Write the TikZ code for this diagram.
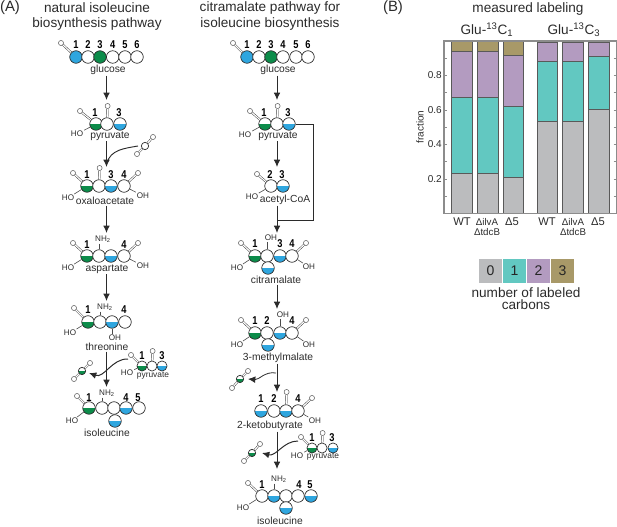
\documentclass[tikz,border=0pt]{standalone}
\usepackage{fontspec}
\setmainfont{Liberation Sans}
\newfontfamily\numfont[FakeStretch=0.82]{Liberation Sans}
\usetikzlibrary{arrows.meta, positioning}
\usepackage{xcolor}
\definecolor{ink}{HTML}{2B2B2B}
\definecolor{cblue}{HTML}{2FA6DF}
\definecolor{cgreen}{HTML}{0C8C4A}
\definecolor{barzero}{HTML}{BBBCBE}
\definecolor{barone}{HTML}{62C8C1}
\definecolor{bartwo}{HTML}{B39BC0}
\definecolor{barthree}{HTML}{A89968}

\begin{document}
\begin{tikzpicture}[
    x=0.75pt, y=-0.75pt,
    atom/.style={draw=ink, circle, fill=white, line width=0.5pt, inner sep=0pt, minimum size=9.4pt},
    atomblue/.style={atom, fill=cblue},
    atomgreen/.style={atom, fill=cgreen},
    halfblue/.style={atom, path picture={\fill[cblue] (path picture bounding box.west) rectangle (path picture bounding box.south east);}},
    halfgreen/.style={atom, path picture={\fill[cgreen] (path picture bounding box.west) rectangle (path picture bounding box.south east);}},
    oxy/.style={draw=ink!85, circle, fill=white, line width=0.35pt, inner sep=0pt, minimum size=3.8pt},
    dbond/.style={draw=ink, double, double distance=0.85pt, line width=0.32pt},
    bond/.style={draw=ink!85, line width=0.45pt},
    num/.style={font=\numfont\bfseries\fontsize{8.5}{9}\selectfont, text=black, inner sep=0pt},
    chemgroup/.style={font=\fontsize{6.1}{7}\selectfont, text=ink, inner sep=0.6pt},
    chemname/.style={font=\fontsize{7.7}{9}\selectfont, text=ink, inner sep=0.5pt},
    smallname/.style={font=\fontsize{6.3}{7}\selectfont, text=ink, inner sep=0.5pt},
    arrow/.style={-{Latex[length=5.5pt,width=5pt]}, draw=ink, line width=0.75pt},
    feed/.style={draw=ink, line width=0.7pt},
    heading/.style={font=\fontsize{10.2}{12}\selectfont, text=ink, inner sep=0pt},
    ticklab/.style={font=\fontsize{7.5}{9}\selectfont, text=ink, inner sep=0pt},
    strain/.style={font=\fontsize{7.3}{8}\selectfont, text=ink, inner sep=0pt},
    keybox/.style={minimum width=17pt, minimum height=18pt, inner sep=0pt, font=\fontsize{10.5}{12}\selectfont, text=black!85}
]
\useasboundingbox (0,0) rectangle (617,527);

% titles
\node[font=\fontsize{11.2}{12}\selectfont, text=ink, inner sep=0pt] (panelA) at (10,8) {(A)};
\node[font=\fontsize{11.2}{12}\selectfont, text=ink, inner sep=0pt] (panelB) at (393,8) {(B)};
\node[heading] (titleA1) at (97,8) {natural isoleucine};
\node[heading] (titleA2) at (97,24) {biosynthesis pathway};
\node[heading] (titleB1) at (270,8) {citramalate pathway for};
\node[heading] (titleB2) at (270,24) {isoleucine biosynthesis};

% natural pathway: glucose
\foreach \n/\x/\st in {1/76/atomblue,2/88/atom,3/100/atomgreen,4/112.7/atom,5/125/atom,6/137/atom} {
    \node[\st] (gluA\n) at (\x,57) {};
    \node[num] (gluAn\n) at (\x,45) {\n};
}
\node[oxy] (gluAo) at (61,43) {};
\draw[dbond] (gluAo) -- (gluA1);
\node[chemname] (gluAname) at (108,70) {glucose};

% natural pathway: pyruvate
\foreach \n/\x/\st in {1/96/halfgreen,2/107/atom,3/120/halfblue} \node[\st] (pyrA\n) at (\x,124) {};
\node[num] (pyrAn1) at (95,113) {1};
\node[num] (pyrAn3) at (119,113) {3};
\node[oxy] (pyrAo) at (80,111) {};
\node[oxy] (pyrAt) at (107.6,106) {};
\node[chemgroup] (pyrAho) at (77,134) {HO};
\draw[dbond] (pyrAo) -- (pyrA1);
\draw[dbond] (pyrAt) -- (pyrA2);
\draw[bond] (pyrAho) -- (pyrA1);
\node[chemname] (pyrAname) at (110,136) {pyruvate};

% natural pathway: carbon dioxide joining
\node[atom, minimum size=5.5pt] (coA) at (145,146) {};
\node[oxy] (coAu) at (153,137) {};
\node[oxy] (coAd) at (137,154) {};
\draw[dbond] (coAu) -- (coA);
\draw[dbond] (coAd) -- (coA);

% natural pathway: oxaloacetate
\foreach \n/\x/\st in {1/87/halfgreen,2/99/atom,3/111/halfblue,4/124/atom} \node[\st] (oxaA\n) at (\x,186) {};
\foreach \n/\x in {1/87,3/111,4/124} \node[num] (oxaAn\n) at (\x,175) {\n};
\node[oxy] (oxaAo) at (73,173) {};
\node[oxy] (oxaAp) at (138,173) {};
\node[oxy] (oxaAt) at (99.6,168) {};
\node[chemgroup] (oxaAho) at (68,198) {HO};
\node[chemgroup] (oxaAoh) at (143,196) {OH};
\draw[dbond] (oxaAo) -- (oxaA1);
\draw[dbond] (oxaAp) -- (oxaA4);
\draw[dbond] (oxaAt) -- (oxaA2);
\draw[bond] (oxaAho) -- (oxaA1);
\draw[bond] (oxaAoh) -- (oxaA4);
\node[chemname] (oxaAname) at (105,201) {oxaloacetate};

% natural pathway: aspartate
\foreach \n/\x/\st in {1/87/halfgreen,2/99/atom,3/111/halfblue,4/124/atom} \node[\st] (aspA\n) at (\x,256) {};
\foreach \n/\x in {1/87,4/124} \node[num] (aspAn\n) at (\x,245) {\n};
\node[oxy] (aspAo) at (73,243) {};
\node[oxy] (aspAp) at (138,243) {};
\node[chemgroup] (aspAnh) at (103,239) {NH\textsubscript{2}};
\node[chemgroup] (aspAho) at (68,268) {HO};
\node[chemgroup] (aspAoh) at (143,266) {OH};
\draw[dbond] (aspAo) -- (aspA1);
\draw[dbond] (aspAp) -- (aspA4);
\draw[bond] (aspAnh.south -| aspA2) -- (aspA2);
\draw[bond] (aspAho) -- (aspA1);
\draw[bond] (aspAoh) -- (aspA4);
\node[chemname] (aspAname) at (107,269) {aspartate};

% natural pathway: threonine
\foreach \n/\x/\st in {1/88/halfgreen,2/100/atom,3/112/halfblue,4/125/atom} \node[\st] (thrA\n) at (\x,322) {};
\foreach \n/\x in {1/88,4/124} \node[num] (thrAn\n) at (\x,310) {\n};
\node[oxy] (thrAo) at (74,308) {};
\node[chemgroup] (thrAnh) at (105,307) {NH\textsubscript{2}};
\node[chemgroup] (thrAho) at (70,333) {HO};
\node[chemgroup] (thrAoh) at (115,338) {OH};
\draw[dbond] (thrAo) -- (thrA1);
\draw[bond] (thrAnh.south -| thrA2) -- (thrA2);
\draw[bond] (thrAho) -- (thrA1);
\draw[bond] (thrAoh.north -| thrA3) -- (thrA3);
\node[chemname] (thrAname) at (107,347) {threonine};

% natural pathway: small pyruvate and carbon dioxide
\foreach \n/\x/\st in {1/142/halfgreen,2/152/atom,3/162/halfblue} \node[\st, minimum size=7.6pt] (spyA\n) at (\x,366) {};
\node[num] (spyAn1) at (142,356) {1};
\node[num] (spyAn3) at (162,356) {3};
\node[oxy] (spyAo) at (131,355) {};
\node[oxy] (spyAt) at (152.6,351) {};
\node[chemgroup] (spyAho) at (127,373) {HO};
\draw[dbond] (spyAo) -- (spyA1);
\draw[dbond] (spyAt) -- (spyA2);
\draw[bond] (spyAho) -- (spyA1);
\node[smallname] (spyAname) at (153,376) {pyruvate};
\node[halfgreen, minimum size=5.5pt] (lossA) at (82,371) {};
\node[oxy] (lossAu) at (90,363) {};
\node[oxy] (lossAd) at (74,379) {};
\draw[dbond] (lossAu) -- (lossA);
\draw[dbond] (lossAd) -- (lossA);

% natural pathway: isoleucine
\foreach \n/\x/\st in {1/89/halfgreen,2/102/atom,3/114/atom,4/126/halfblue,5/139/atom} \node[\st] (ileA\n) at (\x,408) {};
\node[halfblue] (ileAm) at (115,421) {};
\foreach \n/\x in {1/89,4/126,5/138} \node[num] (ileAn\n) at (\x,397.5) {\n};
\node[oxy] (ileAo) at (77,396) {};
\node[chemgroup] (ileAnh) at (107,393) {NH\textsubscript{2}};
\node[chemgroup] (ileAho) at (72,421) {HO};
\draw[dbond] (ileAo) -- (ileA1);
\draw[bond] (ileAnh.south -| ileA2) -- (ileA2);
\draw[bond] (ileAho) -- (ileA1);
\node[chemname] (ileAname) at (107,433) {isoleucine};

% natural pathway: arrows
\coordinate (a1) at (106.5,100);
\coordinate (a2) at (106.5,167);
\coordinate (a3) at (106.5,233);
\coordinate (a4) at (106.5,301);
\coordinate (a5) at (106.5,387);
\coordinate (co2in) at (138,146);
\coordinate (co2end) at (107,163);
\coordinate (pyrin) at (128,359);
\coordinate (lossend) at (89,373);
\draw[arrow] (gluAname.south -| a1) -- (a1);
\draw[arrow] (pyrAname.south -| a2) -- (a2);
\draw[arrow] (oxaAname.south -| a3) -- (a3);
\draw[arrow] (aspAname.south -| a4) -- (a4);
\draw[arrow] (thrAname.south -| a5) -- (a5);
\draw[feed] (co2in) to[out=190,in=75] (co2end);
\draw[arrow] (pyrin) to[out=178,in=-20] (lossend);

% citramalate pathway: glucose
\foreach \n/\x/\st in {1/247/atomblue,2/259/atom,3/271/atomgreen,4/283/atom,5/296/atom,6/308/atom} {
    \node[\st] (gluB\n) at (\x,57) {};
    \node[num] (gluBn\n) at (\x,45) {\n};
}
\node[oxy] (gluBo) at (233,43) {};
\draw[dbond] (gluBo) -- (gluB1);
\node[chemname] (gluBname) at (278,70) {glucose};

% citramalate pathway: pyruvate
\foreach \n/\x/\st in {1/265/halfgreen,2/277/atom,3/289/halfblue} \node[\st] (pyrB\n) at (\x,124) {};
\node[num] (pyrBn1) at (264,113) {1};
\node[num] (pyrBn3) at (288,113) {3};
\node[oxy] (pyrBo) at (250,111) {};
\node[oxy] (pyrBt) at (277.6,106) {};
\node[chemgroup] (pyrBho) at (245,135) {HO};
\draw[dbond] (pyrBo) -- (pyrB1);
\draw[dbond] (pyrBt) -- (pyrB2);
\draw[bond] (pyrBho) -- (pyrB1);
\node[chemname] (pyrBname) at (278,136) {pyruvate};

% citramalate pathway: acetyl-CoA
\node[atom] (aceB2) at (271,186) {};
\node[halfblue] (aceB3) at (283,186) {};
\node[num] (aceBn2) at (270,175) {2};
\node[num] (aceBn3) at (282,175) {3};
\node[oxy] (aceBo) at (257,174) {};
\node[chemgroup] (aceBho) at (252,197) {HO};
\draw[dbond] (aceBo) -- (aceB2);
\draw[bond] (aceBho) -- (aceB2);
\node[chemname] (aceBname) at (285,200) {acetyl-CoA};

% citramalate pathway: citramalate
\foreach \n/\x/\st in {1/255/halfgreen,2/267/atom,3/280/halfblue,4/292/atom} \node[\st] (citB\n) at (\x,256) {};
\node[halfblue] (citBm) at (268,268) {};
\foreach \n/\x in {1/255,3/280,4/292} \node[num] (citBn\n) at (\x,244) {\n};
\node[oxy] (citBo) at (241,243) {};
\node[oxy] (citBp) at (306,243) {};
\node[chemgroup] (citBtop) at (271,238) {OH};
\node[chemgroup] (citBho) at (237,268) {HO};
\node[chemgroup] (citBoh) at (309,267) {OH};
\draw[dbond] (citBo) -- (citB1);
\draw[dbond] (citBp) -- (citB4);
\draw[bond] (citBtop.south -| citB2) -- (citB2);
\draw[bond] (citBho) -- (citB1);
\draw[bond] (citBoh) -- (citB4);
\node[chemname] (citBname) at (276,280) {citramalate};

% citramalate pathway: 3-methylmalate
\foreach \n/\x/\st in {1/255/halfgreen,2/267/atom,3/280/halfblue,4/292/atom} \node[\st] (metB\n) at (\x,333) {};
\node[halfblue] (metBm) at (268,345) {};
\foreach \n/\x in {1/255,2/267,4/292} \node[num] (metBn\n) at (\x,321) {\n};
\node[oxy] (metBo) at (241,320) {};
\node[oxy] (metBp) at (306,320) {};
\node[chemgroup] (metBtop) at (283,315) {OH};
\node[chemgroup] (metBho) at (237,345) {HO};
\node[chemgroup] (metBoh) at (309,345) {OH};
\draw[dbond] (metBo) -- (metB1);
\draw[dbond] (metBp) -- (metB4);
\draw[bond] (metBtop.south -| metB3) -- (metB3);
\draw[bond] (metBho) -- (metB1);
\draw[bond] (metBoh) -- (metB4);
\node[chemname] (metBname) at (278,358) {3-methylmalate};

% citramalate pathway: carbon dioxide lost
\node[halfgreen, minimum size=5.5pt] (lossB) at (240,379) {};
\node[oxy] (lossBu) at (248,371) {};
\node[oxy] (lossBd) at (232,388) {};
\draw[dbond] (lossBu) -- (lossB);
\draw[dbond] (lossBd) -- (lossB);

% citramalate pathway: 2-ketobutyrate
\foreach \n/\x/\st in {1/261/halfblue,2/274/atom,3/286/halfblue,4/298/atom} \node[\st] (ketB\n) at (\x,411) {};
\foreach \n/\x in {1/261,2/274,4/298} \node[num] (ketBn\n) at (\x,399) {\n};
\node[oxy] (ketBt) at (286.6,392) {};
\node[oxy] (ketBp) at (312,398) {};
\node[chemgroup] (ketBoh) at (315,421) {OH};
\draw[dbond] (ketBt) -- (ketB3);
\draw[dbond] (ketBp) -- (ketB4);
\draw[bond] (ketBoh) -- (ketB4);
\node[chemname] (ketBname) at (270,426) {2-ketobutyrate};

% citramalate pathway: small pyruvate and carbon dioxide
\foreach \n/\x/\st in {1/312/halfgreen,2/322/atom,3/333/halfblue} \node[\st, minimum size=7.6pt] (spyB\n) at (\x,448) {};
\node[num] (spyBn1) at (312,438) {1};
\node[num] (spyBn3) at (332,438) {3};
\node[oxy] (spyBo) at (301,437) {};
\node[oxy] (spyBt) at (322.6,433) {};
\node[chemgroup] (spyBho) at (297,456) {HO};
\draw[dbond] (spyBo) -- (spyB1);
\draw[dbond] (spyBt) -- (spyB2);
\draw[bond] (spyBho) -- (spyB1);
\node[smallname] (spyBname) at (323,457) {pyruvate};
\node[halfgreen, minimum size=5.5pt] (lossC) at (252,453) {};
\node[oxy] (lossCu) at (260,444) {};
\node[oxy] (lossCd) at (244,461) {};
\draw[dbond] (lossCu) -- (lossC);
\draw[dbond] (lossCd) -- (lossC);

% citramalate pathway: isoleucine
\foreach \n/\x/\st in {1/262/atom,2/274/halfblue,3/286/atom,4/298/atom,5/311/halfblue} \node[\st] (ileB\n) at (\x,496) {};
\node[halfblue] (ileBm) at (286,508) {};
\foreach \n/\x in {1/262,4/299,5/310} \node[num] (ileBn\n) at (\x,485) {\n};
\node[oxy] (ileBo) at (248,483) {};
\node[chemgroup] (ileBnh) at (279,479) {NH\textsubscript{2}};
\node[chemgroup] (ileBho) at (243,508) {HO};
\draw[dbond] (ileBo) -- (ileB1);
\draw[bond] (ileBnh.south -| ileB2) -- (ileB2);
\draw[bond] (ileBho) -- (ileB1);
\node[chemname] (ileBname) at (280,521) {isoleucine};

% citramalate pathway: arrows
\coordinate (b1) at (277,100);
\coordinate (b2) at (277,167);
\coordinate (b3) at (277,233);
\coordinate (b4) at (277,309);
\coordinate (b5) at (277,392);
\coordinate (b6) at (277,469);
\coordinate (feedcorner) at (313,220);
\coordinate (feedend) at (277,220);
\coordinate (metout) at (276,373);
\coordinate (metend) at (248,379);
\coordinate (pyrinB) at (298,441);
\coordinate (ketend) at (262,453);
\draw[arrow] (gluBname.south -| b1) -- (b1);
\draw[arrow] (pyrBname.south -| b2) -- (b2);
\draw[arrow] (aceBname.south -| b3) -- (b3);
\draw[arrow] (citBname.south -| b4) -- (b4);
\draw[arrow] (metBname.south -| b5) -- (b5);
\draw[arrow] (ketBname.south -| b6) -- (b6);
\draw[feed] (pyrB3) -| (feedcorner) -- (feedend);
\draw[arrow, line width=0.6pt] (metout) to[out=170,in=-5] (metend);
\draw[arrow] (pyrinB) to[out=180,in=-15] (ketend);

% bars
\node[heading] (titleC) at (528,9) {measured labeling};
\node[heading] (gluC1) at (487,30) {Glu-\textsuperscript{13}C\textsubscript{1}};
\node[heading] (gluC3) at (574,30) {Glu-\textsuperscript{13}C\textsubscript{3}};
\foreach \xl/\xr/\a/\b/\c in {451.3/472/.233/.671/.942, 477.3/498/.233/.671/.942, 503/523.7/.21/.62/.919,
    537/557.7/.532/.88/.99, 562.7/583.3/.532/.88/.99, 588.3/609/.604/.91/.99} {
    \draw[draw=black!65, fill=barzero, line width=0.5pt] (\xl,213.5) rectangle (\xr,{213.5-172.5*\a});
    \draw[draw=black!65, fill=barone, line width=0.5pt] (\xl,{213.5-172.5*\a}) rectangle (\xr,{213.5-172.5*\b});
    \draw[draw=black!65, fill=bartwo, line width=0.5pt] (\xl,{213.5-172.5*\b}) rectangle (\xr,{213.5-172.5*\c});
    \draw[draw=black!65, fill=barthree, line width=0.5pt] (\xl,{213.5-172.5*\c}) rectangle (\xr,41);
}
\draw[black!45, line width=0.8pt] (444,41) rectangle (616.5,213.5);
\foreach \v in {.1,.2,...,.95} {
    \draw[black!45, line width=0.4pt] (444,{213.5-172.5*\v}) -- (447,{213.5-172.5*\v});
    \draw[black!45, line width=0.4pt] (613.5,{213.5-172.5*\v}) -- (616.5,{213.5-172.5*\v});
}
\foreach \v in {0.2,0.4,0.6,0.8} \node[ticklab, anchor=east] (tick\v) at (442,{213.5-172.5*\v}) {\v};
\node[ticklab, rotate=90] (fracaxis) at (420,127) {fraction};

% strain labels
\foreach \x/\lab [count=\i] in {462/WT,512/{Δ5},547/WT,598/{Δ5}}
    \node[font=\fontsize{8.4}{9}\selectfont, text=ink, inner sep=0pt] (strain\i) at (\x,222) {\lab};
\foreach \x [count=\i] in {487,573} {
    \node[strain] (ilv\i) at (\x,222) {ΔilvA};
    \node[strain] (tdc\i) at (\x,232) {ΔtdcB};
}

% legend
\foreach \n/\x/\col in {0/490.5/barzero,1/514.5/barone,2/538.5/bartwo,3/562.5/barthree}
    \node[keybox, fill=\col] (key\n) at (\x,271) {\n};
\node[heading, font=\fontsize{10.2}{8.8}\selectfont, align=center] (keytext) at (526,299) {number of labeled\\carbons};

\end{tikzpicture}
\end{document}
